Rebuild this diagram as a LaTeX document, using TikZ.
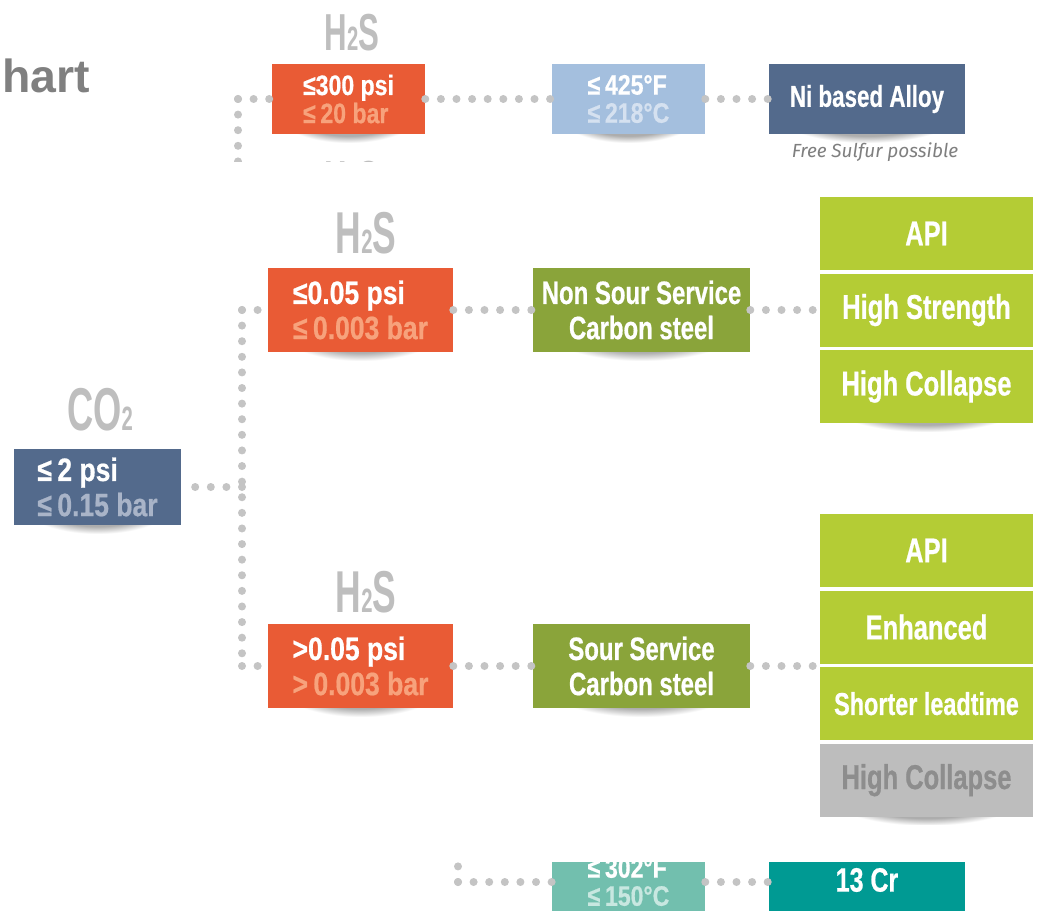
\documentclass[tikz,border=0pt]{standalone}
\usepackage{fontspec}
\setmainfont{Liberation Sans}
\newfontfamily\condfont[FakeStretch=0.74, BoldFeatures={FakeBold=0.6}]{Liberation Sans}
\newfontfamily\datafont[FakeStretch=0.82, BoldFeatures={FakeBold=0.6}]{Liberation Sans}
\newfontfamily\chemfont[FakeStretch=0.6]{Liberation Sans}
\newfontfamily\notefont{Fira Sans}
\usepackage{tikz}
\usetikzlibrary{positioning,shadows,fadings}

\definecolor{dotgray}{HTML}{C4C4C4}
\definecolor{labelgray}{HTML}{BEBEBE}
\definecolor{titlegray}{HTML}{808080}
\definecolor{h2sorange}{HTML}{E95B35}
\definecolor{orangelight}{HTML}{F7A27C}
\definecolor{slate}{HTML}{536A8C}
\definecolor{slatelight}{HTML}{A9B4C8}
\definecolor{skyblue}{HTML}{A4BFDE}
\definecolor{skylight}{HTML}{D5E1F0}
\definecolor{olive}{HTML}{8AA43A}
\definecolor{lime}{HTML}{B4CC35}
\definecolor{greybox}{HTML}{BDBDBD}
\definecolor{greytext}{HTML}{8D8D8D}
\definecolor{crteal}{HTML}{009A93}
\definecolor{teallight}{HTML}{72BFAE}
\definecolor{tealtext}{HTML}{C8E7E0}
\definecolor{notegray}{HTML}{7F7F7F}

\newcommand{\sub}[1]{{\fontsize{24}{24}\selectfont #1}}

\begin{document}
\begin{tikzpicture}[x=0.025cm, y=-0.025cm,
    dotline/.style={dotgray, line width=0.2cm, line cap=round, dash pattern=on 0pt off 0.39cm},
    boxsize/.style 2 args={minimum width=#1*0.025cm, minimum height=#2*0.025cm},
    shadowed/.style={general shadow={fill=black, fill opacity=0.32, shadow yshift=-0.22cm,
        path fading=circle with fuzzy edge 20 percent}},
    box/.style={inner sep=0pt, align=center, text=white, shadowed,
        font=\condfont\bfseries\fontsize{23}{25}\selectfont},
    databox/.style={box, align=left, font=\datafont\bfseries\fontsize{23}{25}\selectfont},
    smallbox/.style={databox, font=\datafont\bfseries\fontsize{20}{20}\selectfont},
    stackbox/.style={inner sep=0pt, fill=lime, text=white, boxsize={213}{73},
        font=\condfont\bfseries\fontsize{24.5}{24.5}\selectfont},
    chem/.style={inner sep=0pt, text=labelgray, font=\chemfont\bfseries\fontsize{42}{42}\selectfont},
    note/.style={inner sep=0pt, text=notegray, font=\notefont\itshape\fontsize{13.5}{13.5}\selectfont}]

\useasboundingbox[fill=white] (0,0) rectangle (1037,911);

\begin{scope}
\clip (0,0) rectangle (1037,162);
\node[anchor=west, inner sep=0pt, text=titlegray, font=\bfseries\fontsize{33}{33}\selectfont] (title) at (2,76) {hart};

\node[chem, font=\chemfont\bfseries\fontsize{37}{37}\selectfont] (h2stoplbl) at (352,33) {H\sub{2}S};
\node[smallbox, fill=h2sorange, boxsize={153}{70}] (h2stop) at (348.5,99) {≤300 psi\\\textcolor{orangelight}{≤\,20 bar}};
\node[smallbox, fill=skyblue, boxsize={153}{70}] (temptop) at (628.5,99) {≤\,425°F\\\textcolor{skylight}{≤\,218°C}};
\node[box, fill=slate, boxsize={196}{70}, font=\condfont\bfseries\fontsize{21.5}{21.5}\selectfont] (nialloy) at (867,99) {Ni based Alloy};
\node[note, below=0.2cm of nialloy, xshift=0.2cm] (sulfur) {Free Sulfur possible};
\node[chem, font=\chemfont\bfseries\fontsize{37}{37}\selectfont] (h2snextlbl) at (352,180) {H\sub{2}S};

\coordinate (topsplit) at (238,99);
\draw[dotline] (topsplit) -- (238,180);
\draw[dotline] (topsplit) -- (h2stop.west);
\draw[dotline] (h2stop.east) -- (temptop.west);
\draw[dotline] (temptop.east) -- (nialloy.west);
\end{scope}

\node[chem, font=\chemfont\bfseries\fontsize{43}{43}\selectfont] (co2lbl) at (100,410) {CO\sub{2}};
\node[databox, fill=slate, boxsize={167}{76}] (co2box) at (97.5,487) {≤\,2 psi\\\textcolor{slatelight}{≤\,0.15 bar}};

\node[chem] (h2slowlbl) at (366,233) {H\sub{2}S};
\node[databox, fill=h2sorange, boxsize={185}{84}] (h2slow) at (360.5,310) {≤0.05 psi\\\textcolor{orangelight}{≤\,0.003 bar}};
\node[box, fill=olive, boxsize={217}{84}] (nonsour) at (641.5,310) {Non Sour Service\\Carbon steel};

\node[chem] (h2shighlbl) at (366,592) {H\sub{2}S};
\node[databox, fill=h2sorange, boxsize={185}{84}] (h2shigh) at (360.5,666) {>0.05 psi\\\textcolor{orangelight}{>\,0.003 bar}};
\node[box, fill=olive, boxsize={217}{84}] (sour) at (641.5,666) {Sour Service\\Carbon steel};

\node[stackbox] (api1) at (926.5,233.5) {API};
\node[stackbox, below=0.075cm of api1] (strength1) {High Strength};
\node[stackbox, shadowed, below=0.075cm of strength1] (collapse1) {High Collapse};

\node[stackbox] (api2) at (926.5,550.5) {API};
\node[stackbox, below=0.075cm of api2] (enhanced2) {Enhanced};
\node[stackbox, below=0.075cm of enhanced2, font=\condfont\bfseries\fontsize{22.5}{22.5}\selectfont] (leadtime2) {Shorter leadtime};
\node[stackbox, shadowed, fill=greybox, text=greytext, below=0.075cm of leadtime2] (collapse2) {High Collapse};

\coordinate (split) at (242,487);
\draw[dotline] (split) -- (co2box.east);
\draw[dotline] (split |- h2slow) -- (split |- h2shigh);
\draw[dotline] (split |- h2slow) -- (h2slow.west);
\draw[dotline] (split |- h2shigh) -- (h2shigh.west);
\draw[dotline] (h2slow.east) -- (nonsour.west);
\draw[dotline] (h2shigh.east) -- (sour.west);
\draw[dotline] (nonsour.east) -- (nonsour.east -| strength1.west);
\draw[dotline] (sour.east) -- (sour.east -| enhanced2.west);

\begin{scope}
\clip (0,862) rectangle (1037,911);
\node[smallbox, fill=teallight, boxsize={153}{70}] (tempbot) at (628.5,882) {≤\,302°F\\\textcolor{tealtext}{≤\,150°C}};
\node[box, fill=crteal, boxsize={196}{70}, font=\condfont\bfseries\fontsize{24}{24}\selectfont] (cr13) at (867,880) {13 Cr};
\coordinate (botsplit) at (458,882);
\draw[dotline] (botsplit) -- (458,840);
\draw[dotline] (botsplit) -- (tempbot.west);
\draw[dotline] (tempbot.east) -- (tempbot.east -| cr13.west);
\end{scope}

\end{tikzpicture}
\end{document}
